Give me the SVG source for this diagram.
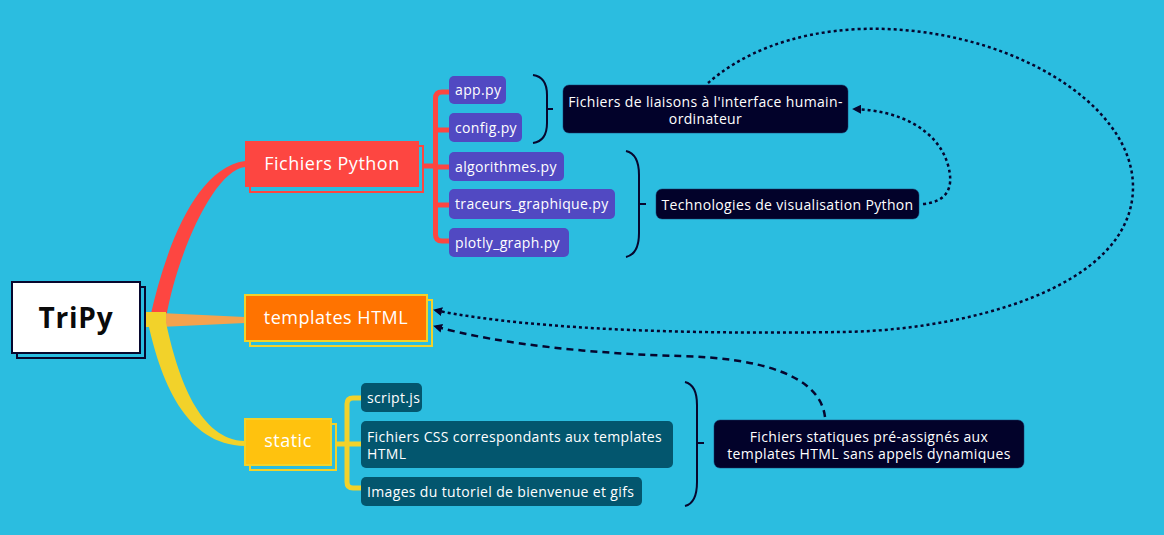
<svg xmlns="http://www.w3.org/2000/svg" width="1164" height="535" viewBox="0 0 1164 535">
<defs>
<style>
.t{font-family:"Open Sans","Liberation Sans",sans-serif;fill:#ffffff}
.s14{font-size:14px;letter-spacing:0.35px}
.s18{font-size:18px;letter-spacing:0.5px}
.br{fill:none;stroke:#07072e;stroke-width:2}
.py{fill:#5149C2}
.st{fill:#03566E}
.dk{fill:#02022A;stroke:#1a3a6a;stroke-width:0.5}
.lk{fill:none;stroke:#06062e;stroke-width:2.5}
</style>
<marker id="ah" viewBox="0 0 10 10" refX="9" refY="5" markerWidth="9" markerHeight="9" markerUnits="userSpaceOnUse" orient="auto">
<path d="M0,0 L10,5 L0,10 Z" fill="#06062e"/>
</marker>
</defs>
<rect width="1164" height="535" fill="#2BBDE0"/>

<g id="connectors">
<path d="M150,318 C165,250 195,168 245,161 L245,167 C215,170 178,250 166,318 Z" fill="#FD4641"/>
<path d="M160,313 L245,317 L245,323 L160,327 Z" fill="#F5A24D"/>
<path d="M147,318 C160,380 185,445 245,446 L245,441 C200,440 178,380 165,318 Z" fill="#F2D22A"/>
<rect x="146" y="312" width="20" height="15" fill="#F2D22A"/>
<g fill="none" stroke="#FD4641" stroke-width="5">
<path d="M423,166 H436"/>
<path d="M450,92 H442 Q435.5,92 435.5,98.5 V234.5 Q435.5,241 442,241 H450"/>
<path d="M435.5,130 H450 M435.5,167 H450 M435.5,205 H450"/>
</g>
<g fill="none" stroke="#F2D22A" stroke-width="5">
<path d="M335,444 H362"/>
<path d="M362,398 H353 Q347,398 347,404 V482 Q347,488 353,488 H362"/>
</g>
<path class="br" d="M533,75 Q547,77 547,95 V123 Q547,141 533,143 M547,109 H553"/>
<path class="br" d="M626,151 Q639,154 639,175 V233 Q639,254 626,257 M639,204 H646"/>
<path class="br" d="M685,382 Q697,385 697,405 V482 Q697,503 685,506 M697,443 H704"/>
<path class="lk" stroke-dasharray="3 3" marker-end="url(#ah)" d="M708,83 C740,55 790,32 860,29 C1000,24 1133,100 1133,187 C1133,290 960,331 840,332 C720,334 540,332 434,310"/>
<path class="lk" stroke-dasharray="3 3" marker-end="url(#ah)" d="M923,204 C945,202 955,190 948,165 C938,130 900,110 853,109"/>
<path class="lk" stroke-dasharray="7 5" marker-end="url(#ah)" d="M825,417 C820,375 760,358 680,356 C600,354 500,345 434,326"/>
</g>

<g id="root">
<rect x="17" y="287" width="128" height="71" fill="none" stroke="#07072e" stroke-width="2"/>
<rect x="12" y="282" width="128" height="71" fill="#ffffff" stroke="#07072e" stroke-width="2"/>
<text x="76" y="328" text-anchor="middle" font-family="'Open Sans','Liberation Sans',sans-serif" font-size="28" font-weight="bold" letter-spacing="0.8" fill="#0a0a0a">TriPy</text>
</g>

<g id="fichiers-python">
<rect x="250" y="146" width="173" height="46" fill="none" stroke="#FD4641" stroke-width="2"/>
<rect x="245" y="141" width="174" height="46" fill="#FD4641"/>
<text class="t s18" x="332" y="169.5" text-anchor="middle">Fichiers Python</text>
</g>

<g id="templates-html">
<rect x="250" y="300" width="182" height="46" fill="none" stroke="#F2D22A" stroke-width="2"/>
<rect x="245" y="295" width="182" height="46" fill="#FF7300" stroke="#F2D22A" stroke-width="2"/>
<text class="t s18" x="336" y="323.5" text-anchor="middle">templates HTML</text>
</g>

<g id="static">
<rect x="250" y="424" width="86" height="46" fill="none" stroke="#F2D22A" stroke-width="2"/>
<rect x="245" y="419" width="86" height="46" fill="#FFC20E" stroke="#F2D22A" stroke-width="2"/>
<text class="t s18" x="288" y="447" text-anchor="middle">static</text>
</g>

<g id="app-py"><rect class="py" x="449" y="76" width="57" height="28" rx="5"/><text class="t s14" x="455" y="95">app.py</text></g>
<g id="config-py"><rect class="py" x="449" y="113" width="73" height="29" rx="5"/><text class="t s14" x="455" y="132.5">config.py</text></g>
<g id="algorithmes-py"><rect class="py" x="449" y="152" width="115" height="29" rx="5"/><text class="t s14" x="455" y="171.5">algorithmes.py</text></g>
<g id="traceurs-py"><rect class="py" x="449" y="189" width="166" height="30" rx="5"/><text class="t s14" x="455" y="209">traceurs_graphique.py</text></g>
<g id="plotly-py"><rect class="py" x="449" y="228" width="120" height="29" rx="5"/><text class="t s14" x="455" y="247.5">plotly_graph.py</text></g>

<g id="liaisons"><rect class="dk" x="563" y="85" width="285" height="48" rx="6"/>
<text class="t s14" text-anchor="middle"><tspan x="705.5" y="106.5">Fichiers de liaisons à l'interface humain-</tspan><tspan x="705.5" y="124">ordinateur</tspan></text></g>

<g id="technologies"><rect class="dk" x="656" y="189" width="263" height="30" rx="6"/>
<text class="t s14" x="787.5" y="210" text-anchor="middle">Technologies de visualisation Python</text></g>

<g id="script-js"><rect class="st" x="361" y="383" width="61" height="29" rx="5"/><text class="t s14" x="367" y="403">script.js</text></g>
<g id="css"><rect class="st" x="361" y="421" width="312" height="47" rx="5"/>
<text class="t s14"><tspan x="367" y="441.5">Fichiers CSS correspondants aux templates</tspan><tspan x="367" y="459">HTML</tspan></text></g>
<g id="images"><rect class="st" x="361" y="477" width="281" height="29" rx="5"/><text class="t s14" x="367" y="496.5">Images du tutoriel de bienvenue et gifs</text></g>

<g id="statiques"><rect class="dk" x="714" y="420" width="310" height="48" rx="6"/>
<text class="t s14" text-anchor="middle"><tspan x="869" y="441.5">Fichiers statiques pré-assignés aux</tspan><tspan x="869" y="459">templates HTML sans appels dynamiques</tspan></text></g>
</svg>
